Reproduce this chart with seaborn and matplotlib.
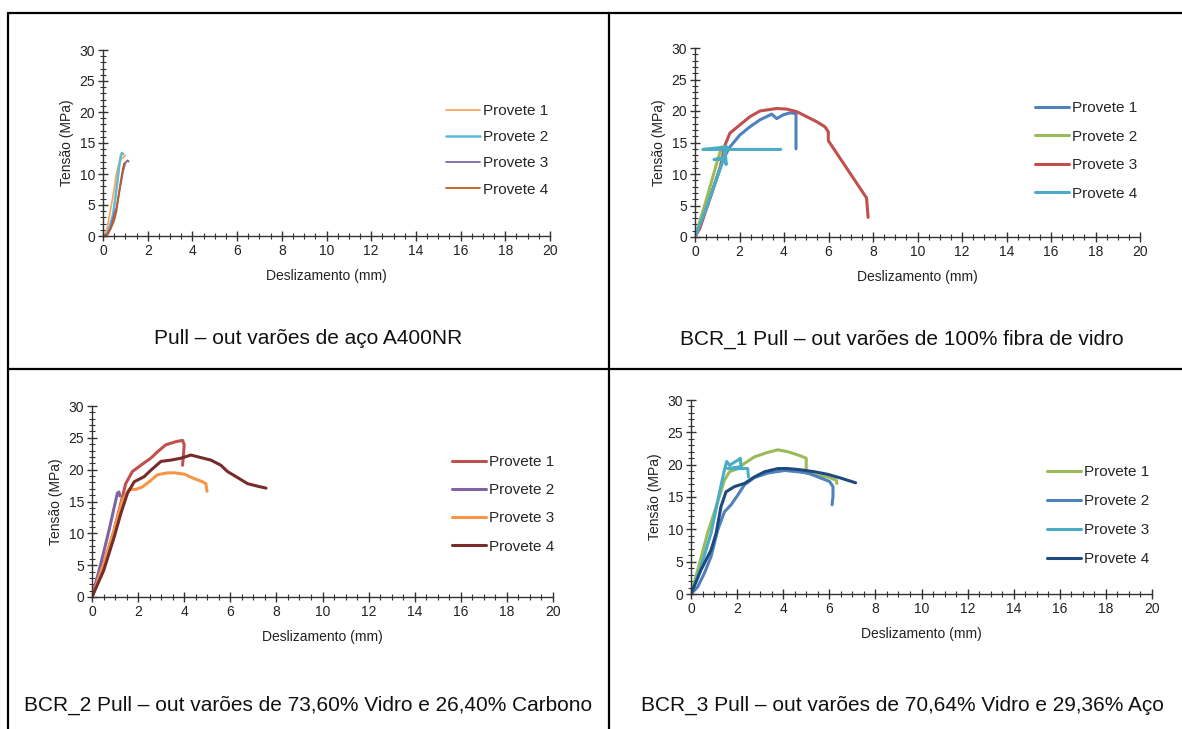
import numpy as np
import pandas as pd
import matplotlib
matplotlib.use("Agg")
import matplotlib.pyplot as plt
from matplotlib.lines import Line2D
from matplotlib.ticker import MultipleLocator
import seaborn as sns

# ---- data (slip mm, stress MPa) ----
# panel A: steel A400NR
a_p1_x = [0, 0.1, 0.2, 0.3, 0.4, 0.5, 0.6, 0.7, 0.8, 0.9, 1.0]
a_p1_y = [0, 0.3, 1.5, 3.5, 5.5, 7.5, 10.0, 11.5, 12.3, 12.7, 13.0]
a_p2_x = [0, 0.15, 0.3, 0.45, 0.55, 0.65, 0.75, 0.8, 0.85, 0.9]
a_p2_y = [0, 0.2, 1.5, 3.5, 6.0, 9.0, 12.0, 13.0, 13.4, 13.2]
a_p3_x = [0, 0.2, 0.35, 0.5, 0.6, 0.7, 0.8, 0.9, 1.0, 1.1, 1.15]
a_p3_y = [0, 0.3, 1.5, 3.5, 4.5, 6.5, 8.5, 10.5, 11.8, 12.2, 12.0]
a_p4_x = [0, 0.2, 0.35, 0.5, 0.6, 0.7, 0.8, 0.9, 0.95, 1.0]
a_p4_y = [0, 0.2, 1.2, 2.5, 4.0, 6.5, 9.0, 11.0, 11.7, 11.8]

# panel B: BCR_1
b_p1_x = [0, 0.5, 1.0, 1.27, 1.57, 2.02, 2.47, 2.92, 3.45, 3.67, 3.97, 4.27, 4.54, 4.54]
b_p1_y = [0, 4.5, 9.6, 12.4, 14.3, 16.2, 17.5, 18.6, 19.5, 18.8, 19.4, 19.7, 19.6, 14.0]
b_p2_x = [0, 0.5, 1.0, 1.2, 1.25]
b_p2_y = [0, 5.8, 12.0, 14.3, 14.0]
b_p3_x = [0, 0.22, 0.67, 1.12, 1.35, 1.57, 2.02, 2.47, 2.92, 3.67, 4.12, 4.57, 5.02,
          5.47, 5.84, 5.99, 5.99, 7.71, 7.78]
b_p3_y = [0, 1.4, 6.1, 10.9, 14.6, 16.5, 17.8, 19.1, 20.0, 20.4, 20.3, 19.9, 19.1,
          18.3, 17.5, 16.7, 15.3, 6.2, 3.1]
b_p4_x = [0, 0.5, 1.0, 1.3, 1.35, 1.4, 1.35, 0.85, 1.3, 1.45, 0.35, 3.85]
b_p4_y = [0, 4.5, 9.5, 12.5, 14.3, 11.5, 12.3, 12.3, 12.6, 14.3, 13.9, 13.9]

# panel C: BCR_2
c_p1_x = [0, 0.51, 0.96, 1.25, 1.46, 1.75, 2.12, 2.55, 2.84, 3.2, 3.64, 3.93, 4.0, 3.93]
c_p1_y = [0, 5.2, 10.5, 14.7, 17.8, 19.7, 20.7, 21.8, 22.8, 23.9, 24.4, 24.6, 23.9, 20.7]
c_p2_x = [0, 0.38, 0.74, 1.1, 1.17, 1.2]
c_p2_y = [0, 5.2, 10.5, 16.3, 16.5, 15.9]
c_p3_x = [0, 0.51, 0.96, 1.32, 1.61, 1.9, 2.19, 2.48, 2.84, 3.28, 3.57, 4.0, 4.43, 4.8, 4.94, 4.99]
c_p3_y = [0, 5.2, 10.5, 15.2, 16.9, 16.9, 17.3, 18.1, 19.2, 19.5, 19.5, 19.3, 18.6, 18.1, 17.8, 16.6]
c_p4_x = [0, 0.51, 0.96, 1.25, 1.54, 1.83, 2.26, 2.55, 2.99, 3.42, 3.86, 4.29, 4.72,
          5.16, 5.59, 5.88, 6.25, 6.75, 7.19, 7.55]
c_p4_y = [0, 4.2, 9.4, 13.1, 16.3, 18.1, 18.9, 19.9, 21.3, 21.5, 21.8, 22.3, 21.9,
          21.5, 20.7, 19.7, 18.9, 17.8, 17.4, 17.1]

# panel D: BCR_3
d_p1_x = [0, 0.29, 0.72, 1.16, 1.45, 1.67, 2.03, 2.32, 2.75, 3.33, 3.77, 4.2, 4.64,
          5.0, 5.0, 5.36, 5.94, 6.3, 6.33]
d_p1_y = [0, 3.7, 9.4, 14.3, 17.6, 18.9, 19.4, 20.2, 21.2, 21.9, 22.3, 22.0, 21.5,
          21.0, 18.7, 18.4, 18.1, 17.6, 17.1]
d_p2_x = [0, 0.29, 0.58, 0.87, 1.16, 1.45, 1.74, 2.03, 2.32, 2.75, 3.33, 4.06, 4.64,
          5.07, 5.65, 6.01, 6.16, 6.16, 6.12]
d_p2_y = [0, 1.1, 3.2, 5.8, 9.9, 12.7, 13.8, 15.3, 16.9, 18.0, 18.7, 19.1, 18.9,
          18.7, 17.9, 17.4, 16.6, 15.1, 13.8]
d_p3_x = [0, 0.43, 0.87, 1.23, 1.45, 1.55, 1.67, 2.03, 2.14, 2.17, 1.59, 2.46, 2.49]
d_p3_y = [0, 4.2, 9.4, 15.6, 19.2, 20.5, 19.9, 20.7, 21.0, 19.7, 19.4, 19.4, 18.1]
d_p4_x = [0, 0.43, 0.87, 1.09, 1.3, 1.52, 1.88, 2.32, 2.75, 3.19, 3.77, 4.2, 4.78,
          5.36, 5.94, 6.52, 7.14]
d_p4_y = [0, 3.7, 6.8, 9.4, 13.5, 15.8, 16.6, 17.1, 18.1, 18.9, 19.4, 19.4, 19.2,
          18.9, 18.5, 17.9, 17.2]

names = ["Provete 1", "Provete 2", "Provete 3", "Provete 4"]
captions = [
    "Pull \u2013 out varões de aço A400NR",
    "BCR_1 Pull \u2013 out varões de 100% fibra de vidro",
    "BCR_2 Pull \u2013 out varões de 73,60% Vidro e 26,40% Carbono",
    "BCR_3 Pull \u2013 out varões de 70,64% Vidro e 29,36% Aço",
]


def long_frame(series):
    rows = []
    for name, (xs, ys) in zip(names, series):
        for i, (x, y) in enumerate(zip(xs, ys)):
            rows.append({"Provete": name, "order": i, "slip": x, "stress": y})
    return pd.DataFrame(rows)


panels = [
    {
        "data": long_frame([(a_p1_x, a_p1_y), (a_p2_x, a_p2_y), (a_p3_x, a_p3_y), (a_p4_x, a_p4_y)]),
        "colors": ["#F9A860", "#5BBCD3", "#8064A2", "#BF5A1E"],
        "lw": [1.3, 1.8, 1.3, 1.3],
        "rect": (103, 50, 550, 236),
        "legend": (446, 104),
        "spacing": 0.8,
        "caption": (308, 339),
    },
    {
        "data": long_frame([(b_p1_x, b_p1_y), (b_p2_x, b_p2_y), (b_p3_x, b_p3_y), (b_p4_x, b_p4_y)]),
        "colors": ["#4F81BD", "#9BBB59", "#C0504D", "#4BACC6"],
        "lw": [2.2, 2.2, 2.2, 2.2],
        "rect": (695, 48, 1140, 237),
        "legend": (1035, 101),
        "spacing": 0.95,
        "caption": (902, 339),
    },
    {
        "data": long_frame([(c_p1_x, c_p1_y), (c_p2_x, c_p2_y), (c_p3_x, c_p3_y), (c_p4_x, c_p4_y)]),
        "colors": ["#C0504D", "#8064A2", "#F79646", "#772C2A"],
        "lw": [2.2, 2.2, 2.2, 2.2],
        "rect": (92, 406, 553, 597),
        "legend": (452, 455),
        "spacing": 0.93,
        "caption": (308, 705),
    },
    {
        "data": long_frame([(d_p1_x, d_p1_y), (d_p2_x, d_p2_y), (d_p3_x, d_p3_y), (d_p4_x, d_p4_y)]),
        "colors": ["#9BBB59", "#4F81BD", "#4BACC6", "#1F497D"],
        "lw": [2.2, 2.2, 2.2, 2.2],
        "rect": (691, 400, 1152, 594),
        "legend": (1047, 465),
        "spacing": 0.98,
        "caption": (902, 705),
    },
]

sns.set_theme(style="white")
plt.rcParams["font.family"] = ["Liberation Sans", "DejaVu Sans"]

W, H = 1182, 729
fig = plt.figure(figsize=(W / 100, H / 100), dpi=100)
fig.patch.set_facecolor("white")


def fx(px):
    return px / W


def fy(py):
    return 1 - py / H


for pnl in panels:
    l, t, r, b = pnl["rect"]
    ax = fig.add_axes([fx(l), fy(b), (r - l) / W, (b - t) / H])
    ax.set_facecolor("none")
    pal = dict(zip(names, pnl["colors"]))
    for name, lw in zip(names, pnl["lw"]):
        sub = pnl["data"][pnl["data"]["Provete"] == name]
        sns.lineplot(data=sub, x="slip", y="stress", color=pal[name], sort=False,
                     estimator=None, linewidth=lw, ax=ax, label=name)
    ax.set_xlim(0, 20)
    ax.set_ylim(0, 30)
    ax.xaxis.set_major_locator(MultipleLocator(2))
    ax.xaxis.set_minor_locator(MultipleLocator(0.5))
    ax.yaxis.set_major_locator(MultipleLocator(5))
    ax.yaxis.set_minor_locator(MultipleLocator(1))
    ax.tick_params(which="major", direction="inout", length=7, width=1.0,
                   color="#333333", labelsize=10, labelcolor="#222222", pad=2)
    ax.tick_params(which="minor", direction="inout", length=4, width=0.8, color="#333333")
    ax.tick_params(axis="x", which="both", bottom=True)
    ax.tick_params(axis="y", which="both", left=True)
    for s in ["top", "right"]:
        ax.spines[s].set_visible(False)
    for s in ["left", "bottom"]:
        ax.spines[s].set_color("#333333")
        ax.spines[s].set_linewidth(1.0)
    ax.set_xlabel("Deslizamento (mm)", fontsize=10, color="#222222", labelpad=8)
    ax.set_ylabel("Tensão (MPa)", fontsize=10, color="#222222", labelpad=4)

    lx, ly = pnl["legend"]
    handles = [Line2D([], [], color=c, lw=lw) for c, lw in zip(pnl["colors"], pnl["lw"])]
    ax.legend(handles, names, loc="upper left", bbox_to_anchor=(fx(lx), fy(ly)),
              bbox_transform=fig.transFigure, frameon=False, fontsize=11,
              handlelength=2.2, handletextpad=0.2, labelspacing=pnl["spacing"],
              borderaxespad=0, borderpad=0)

for pnl, cap in zip(panels, captions):
    cx, cy = pnl["caption"]
    fig.text(fx(cx), fy(cy), cap, ha="center", va="center", fontsize=15, color="#111111")

# table borders
border = dict(color="black", linewidth=1.6, transform=fig.transFigure)
fig.add_artist(Line2D([fx(8), fx(W)], [fy(13), fy(13)], **border))
fig.add_artist(Line2D([fx(8), fx(W)], [fy(369), fy(369)], **border))
fig.add_artist(Line2D([fx(8), fx(8)], [fy(13), fy(H)], **border))
fig.add_artist(Line2D([fx(609), fx(609)], [fy(13), fy(H)], **border))

fig.savefig("out.png", dpi=100, facecolor="white")
